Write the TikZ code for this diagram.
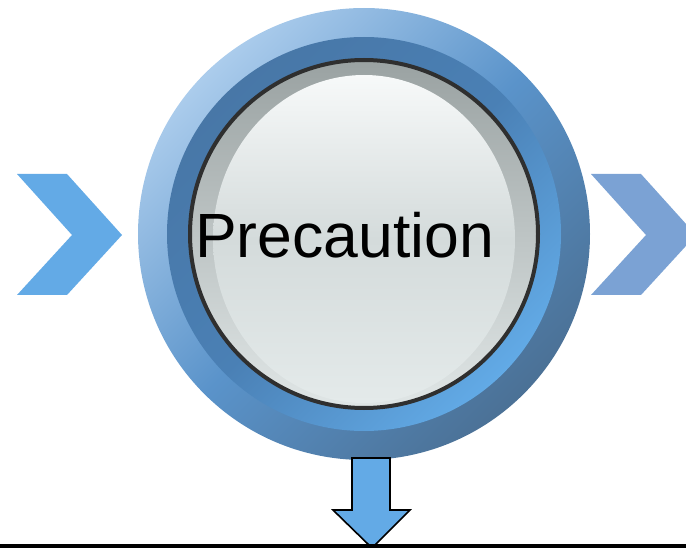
\documentclass[tikz,border=0pt]{standalone}
\usepackage{fontspec}
\setmainfont{Liberation Sans}
\definecolor{chevL}{HTML}{63AAE6}
\definecolor{chevR}{HTML}{7BA2D4}
\definecolor{ringA}{HTML}{ABCCEC}
\definecolor{ringM}{HTML}{5A93CA}
\definecolor{ringB}{HTML}{4B7196}
\definecolor{ringC}{HTML}{4877A7}
\definecolor{ringN}{HTML}{4A80B5}
\definecolor{ringD}{HTML}{62AAE6}
\definecolor{rimC}{HTML}{2F2F2F}
\definecolor{grayA}{HTML}{9AA2A2}
\definecolor{grayB}{HTML}{E0E6E6}
\definecolor{glassA}{HTML}{F7F9F9}
\definecolor{glassB}{HTML}{D4DBDB}
\definecolor{glassC}{HTML}{E4EAEA}
\tikzset{
  chevron/.style={draw=none},
  downarrow/.style={fill=chevL, draw=black, line width=1.6pt, line join=miter},
}
\begin{document}
\begin{tikzpicture}[x=1pt,y=-1pt]
\useasboundingbox (0,0) rectangle (686,548);
% chevrons
\fill[chevron, chevL] (17,174) -- (67,174) -- (122,235) -- (67,295) -- (17,295) -- (72,235) -- cycle;
\fill[chevron, chevR] (591,174) -- (641,174) -- (696,235) -- (641,295) -- (591,295) -- (646,235) -- cycle;
% circle
\coordinate (c) at (364,234);
\shade[top color=ringA, bottom color=ringB, middle color=ringM, shading angle=45] (c) circle[radius=226];
\shade[top color=ringC, bottom color=ringD, middle color=ringN, shading angle=45] (c) circle[radius=197];
\shade[top color=grayA, bottom color=grayB] (c) circle[radius=174];
\shade[top color=glassA, bottom color=glassC, middle color=glassB] (364,239) ellipse[x radius=151, y radius=164];
\draw[rimC, line width=4pt] (c) circle[radius=174];
\node[anchor=base, inner sep=0pt, font=\fontsize{62.5}{70}\selectfont] (t) at (344.5,258) {Precaution};
% down arrow
\draw[downarrow] (352,458) -- (390,458) -- (390,510) -- (410,510) -- (372,548) -- (333,510) -- (352,510) -- cycle;
% bottom line
\coordinate (l0) at (0,546);
\coordinate (l1) at (686,546);
\draw[black, line width=4pt] (l0) -- (l1);
\end{tikzpicture}
\end{document}
